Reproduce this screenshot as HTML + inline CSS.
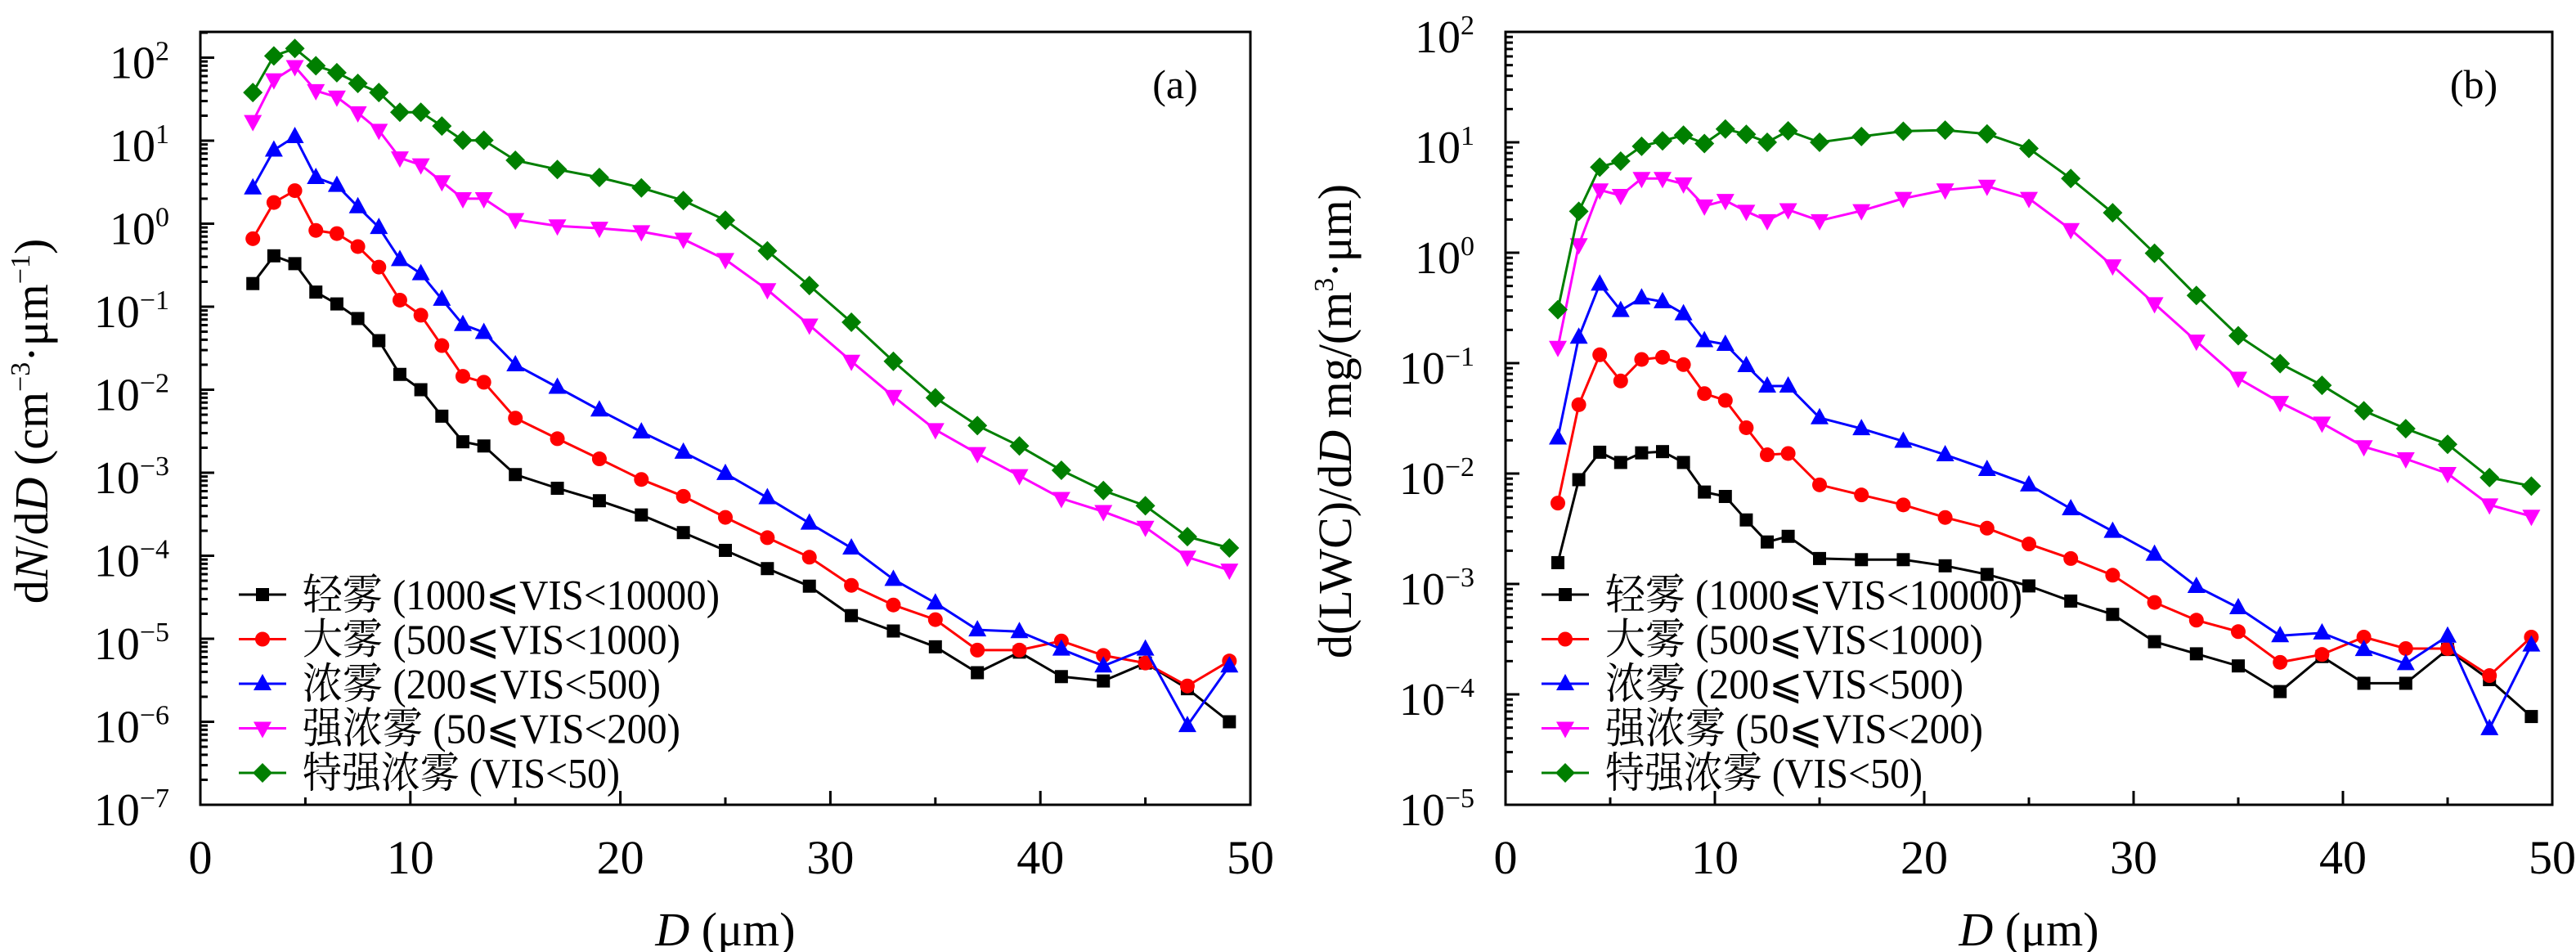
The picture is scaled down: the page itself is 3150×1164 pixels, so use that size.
<!DOCTYPE html>
<html><head><meta charset="utf-8">
<style>
html,body{margin:0;padding:0;background:#fff;}
svg{display:block;}
text{font-family:"Liberation Serif","Noto Serif CJK SC","Noto Sans CJK SC",serif;fill:#000;}
</style></head>
<body>
<svg id="chart" width="3150" height="1164" viewBox="0 0 3150 1164" xmlns="http://www.w3.org/2000/svg"></svg>
<script>
const diameters = [2.5,3.5,4.5,5.5,6.5,7.5,8.5,9.5,10.5,11.5,12.5,13.5,15,17,19,21,23,25,27,29,31,33,35,37,39,41,43,45,47,49];
const seriesNames = ["轻雾 (1000⩽VIS<10000)","大雾 (500⩽VIS<1000)","浓雾 (200⩽VIS<500)","强浓雾 (50⩽VIS<200)","特强浓雾 (VIS<50)"];
const seriesColors = ["#000000","#ff0000","#0000ff","#ff00ff","#007f00"];
const seriesMarkers = ["square","circle","triangle","invtriangle","diamond"];
const xTicks = [0,10,20,30,40,50];
const aTickExps = [2,1,0,-1,-2,-3,-4,-5,-6,-7];
const bTickExps = [2,1,0,-1,-2,-3,-4,-5];
// panel (a) dN/dD
const aLight = [0.19,0.41,0.33,0.15,0.108,0.072,0.039,0.0153,0.010,0.0048,0.00236,0.0021,0.00095,0.00065,0.00046,0.00031,0.00019,0.000116,7.0e-5,4.3e-5,1.9e-5,1.24e-5,8.0e-6,3.9e-6,6.9e-6,3.5e-6,3.1e-6,5.1e-6,2.5e-6,1.0e-6];
const aHeavy = [0.66,1.8,2.5,0.83,0.76,0.53,0.30,0.12,0.079,0.034,0.0145,0.0123,0.00455,0.00257,0.00147,0.00083,0.00052,0.00029,0.000165,9.6e-5,4.4e-5,2.55e-5,1.7e-5,7.3e-6,7.3e-6,9.4e-6,6.3e-6,5.1e-6,2.7e-6,5.4e-6];
const aDense = [2.7,7.7,11.2,3.6,2.9,1.6,0.9,0.37,0.25,0.123,0.061,0.049,0.020,0.0107,0.0057,0.0031,0.00177,0.00098,0.0005,0.000247,0.000124,5.2e-5,2.7e-5,1.28e-5,1.22e-5,7.5e-6,4.7e-6,7.5e-6,9e-7,4.7e-6];
const aStrong = [17,54,78,40,33.5,21.6,13.3,6.2,5.1,3.2,2.0,2.0,1.12,0.94,0.88,0.80,0.65,0.37,0.16,0.060,0.022,0.0083,0.0033,0.0017,0.00092,0.00049,0.00034,0.00022,9.6e-5,6.7e-5];
const aExtreme = [38,105,129,80,66,49,38,22,22,15,10.1,10.1,5.8,4.5,3.6,2.7,1.9,1.1,0.47,0.18,0.065,0.022,0.0080,0.0037,0.0021,0.00107,0.00061,0.00040,0.00017,0.000124];
// panel (b) d(LWC)/dD
const bLight = [0.00156,0.0088,0.0156,0.0126,0.0154,0.0158,0.0126,0.0068,0.0062,0.0038,0.0024,0.0027,0.0017,0.00166,0.00166,0.00146,0.00122,0.00096,0.0007,0.00053,0.0003,0.000233,0.000181,0.000106,0.00022,0.000126,0.000126,0.000255,0.000136,6.3e-5];
const bHeavy = [0.0054,0.042,0.119,0.069,0.108,0.113,0.097,0.053,0.046,0.026,0.0148,0.0152,0.0079,0.0064,0.0052,0.004,0.0032,0.0023,0.0017,0.0012,0.00068,0.00047,0.00037,0.000195,0.00023,0.00033,0.00026,0.00026,0.000148,0.00033];
const bDense = [0.021,0.172,0.52,0.30,0.39,0.36,0.28,0.16,0.148,0.095,0.062,0.062,0.032,0.0255,0.0196,0.0148,0.0109,0.0079,0.0048,0.003,0.00186,0.00095,0.00061,0.00034,0.00036,0.000255,0.00019,0.000337,4.9e-5,0.00028];
const bStrong = [0.139,1.18,3.7,3.3,4.7,4.7,4.2,2.65,2.97,2.37,1.95,2.45,1.95,2.4,3.1,3.7,4.0,3.1,1.62,0.76,0.345,0.158,0.073,0.044,0.0286,0.0175,0.0136,0.0100,0.0052,0.0041];
const bExtreme = [0.305,2.37,5.96,6.76,9.2,10.3,11.6,9.75,13.2,11.8,10.0,12.7,10.0,11.3,12.6,12.9,11.9,8.8,4.7,2.3,0.99,0.41,0.177,0.099,0.063,0.037,0.0255,0.0184,0.0092,0.0077];

const NS="http://www.w3.org/2000/svg";
const svg=document.getElementById('chart');
function mk(tag,attrs,parent){const e=document.createElementNS(NS,tag);for(const k in attrs)e.setAttribute(k,attrs[k]);(parent||svg).appendChild(e);return e;}

function drawPanel(cfg){
  const g=mk('g',{});
  
  
  const X=v=>cfg.x0+(v-0)/50*(cfg.x1-cfg.x0);
  const Y=v=>cfg.yBot-(Math.log10(v)-cfg.minExp)*cfg.dec;
  for(let e=cfg.minExp;e<cfg.maxExp+1;e++){
    for(let m=2;m<=9;m++){const y=Y(m*Math.pow(10,e)); if(y<cfg.yTop)continue;
      const t=mk('line',{x1:cfg.x0,x2:cfg.x0+9,y1:y,y2:y,stroke:'#000','stroke-width':3},g);
      
      }
  }
  cfg.yExps.forEach(e=>{
    const y=Y(Math.pow(10,e));
    const t=mk('line',{x1:cfg.x0,x2:cfg.x0+17,y1:y,y2:y,stroke:'#000','stroke-width':3},g);
    
    
    const lb=mk('text',{x:cfg.x0-38,y:y+25,'text-anchor':'end','font-size':56},g);
    
    
    const t1=mk('tspan',{},lb);t1.textContent='10';
    const t2=mk('tspan',{'font-size':34,dy:-22},lb);t2.textContent=(e<0?'−':'')+Math.abs(e);
  });
  for(let v=5;v<50;v+=5){
    const x=X(v);const len=(v%10===0)?17:9;
    const t=mk('line',{x1:x,x2:x,y1:cfg.yBot,y2:cfg.yBot-len,stroke:'#000','stroke-width':3},g);
    
    
  }
  xTicks.forEach(v=>{
    const lb=mk('text',{x:X(v),y:1068,'text-anchor':'middle','font-size':58},g);
    
    
    lb.textContent=v;
  });
  const fr=mk('rect',{x:cfg.x0,y:cfg.yTop,width:cfg.x1-cfg.x0,height:cfg.yBot-cfg.yTop,fill:'none',stroke:'#000','stroke-width':3},g);
  
  
  cfg.series.forEach((vals,i)=>{
    const sg=mk('g',{},g);
    
    
    const pts=vals.map((v,j)=>X(diameters[j]).toFixed(1)+','+Y(v).toFixed(1)).join(' ');
    const pl=mk('polyline',{points:pts,fill:'none',stroke:seriesColors[i],'stroke-width':3},sg);
    
    
    vals.forEach((v,j)=>{const m=marker(sg,seriesMarkers[i],X(diameters[j]),Y(v),seriesColors[i]);
      
      });
  });
  const lg=mk('g',{},g);
  
  
  seriesNames.forEach((n,i)=>{
    const y=727+i*54.5;
    const le=mk('g',{},lg);
    
    
    mk('line',{x1:cfg.lx,x2:cfg.lx+58,y1:y,y2:y,stroke:seriesColors[i],'stroke-width':3},le);
    marker(le,seriesMarkers[i],cfg.lx+29,y,seriesColors[i]);
    const t=mk('text',{x:cfg.lx+78,y:y+18,'font-size':52,textLength:cfg.legW[i],lengthAdjust:'spacingAndGlyphs'},le);t.textContent=n;
  });
  const pl=mk('text',{x:cfg.lblX,y:120,'text-anchor':'middle','font-size':50},g);
  
  
  pl.textContent=cfg.label;
  const xt=mk('text',{x:(cfg.x0+cfg.x1)/2,y:1156,'text-anchor':'middle','font-size':58},g);
  
  
  const i1=mk('tspan',{'font-style':'italic'},xt);i1.textContent='D';
  const i2=mk('tspan',{},xt);i2.textContent=' (μm)';
  const yt=mk('text',{x:0,y:0,'text-anchor':'middle','font-size':58,transform:`translate(${cfg.ytX},${cfg.ytY}) rotate(-90)`},g);
  
  
  cfg.ytParts.forEach(p=>{const s=mk('tspan',p.a||{},yt);s.textContent=p.t;});
}
function marker(p,type,x,y,c){
  if(type==='square')return mk('rect',{x:x-8,y:y-8,width:16,height:16,fill:c},p);
  if(type==='circle')return mk('circle',{cx:x,cy:y,r:9,fill:c},p);
  if(type==='triangle')return mk('polygon',{points:`${x},${y-12} ${x+11},${y+8} ${x-11},${y+8}`,fill:c},p);
  if(type==='invtriangle')return mk('polygon',{points:`${x},${y+12} ${x+11},${y-8} ${x-11},${y-8}`,fill:c},p);
  return mk('polygon',{points:`${x},${y-12} ${x+12},${y} ${x},${y+12} ${x-12},${y}`,fill:c},p);
}
drawPanel({name:'panel-a-number-distribution',x0:245,x1:1529,yTop:39,yBot:984,minExp:-7,maxExp:2,dec:101.5,yExps:aTickExps,
  series:[aLight,aHeavy,aDense,aStrong,aExtreme],lx:292,legW:[510,462,438,462,388],label:'(a)',lblX:1437,ytX:58,ytY:515,
  ytParts:[{t:'d'},{t:'N',a:{'font-style':'italic'}},{t:'/d'},{t:'D',a:{'font-style':'italic'}},{t:' (cm'},{t:'−3',a:{'font-size':34,dy:-22}},{t:'·μm',a:{dy:22}},{t:'−1',a:{'font-size':34,dy:-22}},{t:')',a:{dy:22}}]});
drawPanel({name:'panel-b-lwc-distribution',x0:1841,x1:3121,yTop:39,yBot:984,minExp:-5,maxExp:2,dec:135,yExps:bTickExps,
  series:[bLight,bHeavy,bDense,bStrong,bExtreme],lx:1885,legW:[510,462,438,462,388],label:'(b)',lblX:3025,ytX:1652,ytY:515,
  ytParts:[{t:'d(LWC)/d'},{t:'D',a:{'font-style':'italic'}},{t:' mg/(m'},{t:'3',a:{'font-size':34,dy:-22}},{t:'·μm)',a:{dy:22}}]});
</script>
</body></html>
